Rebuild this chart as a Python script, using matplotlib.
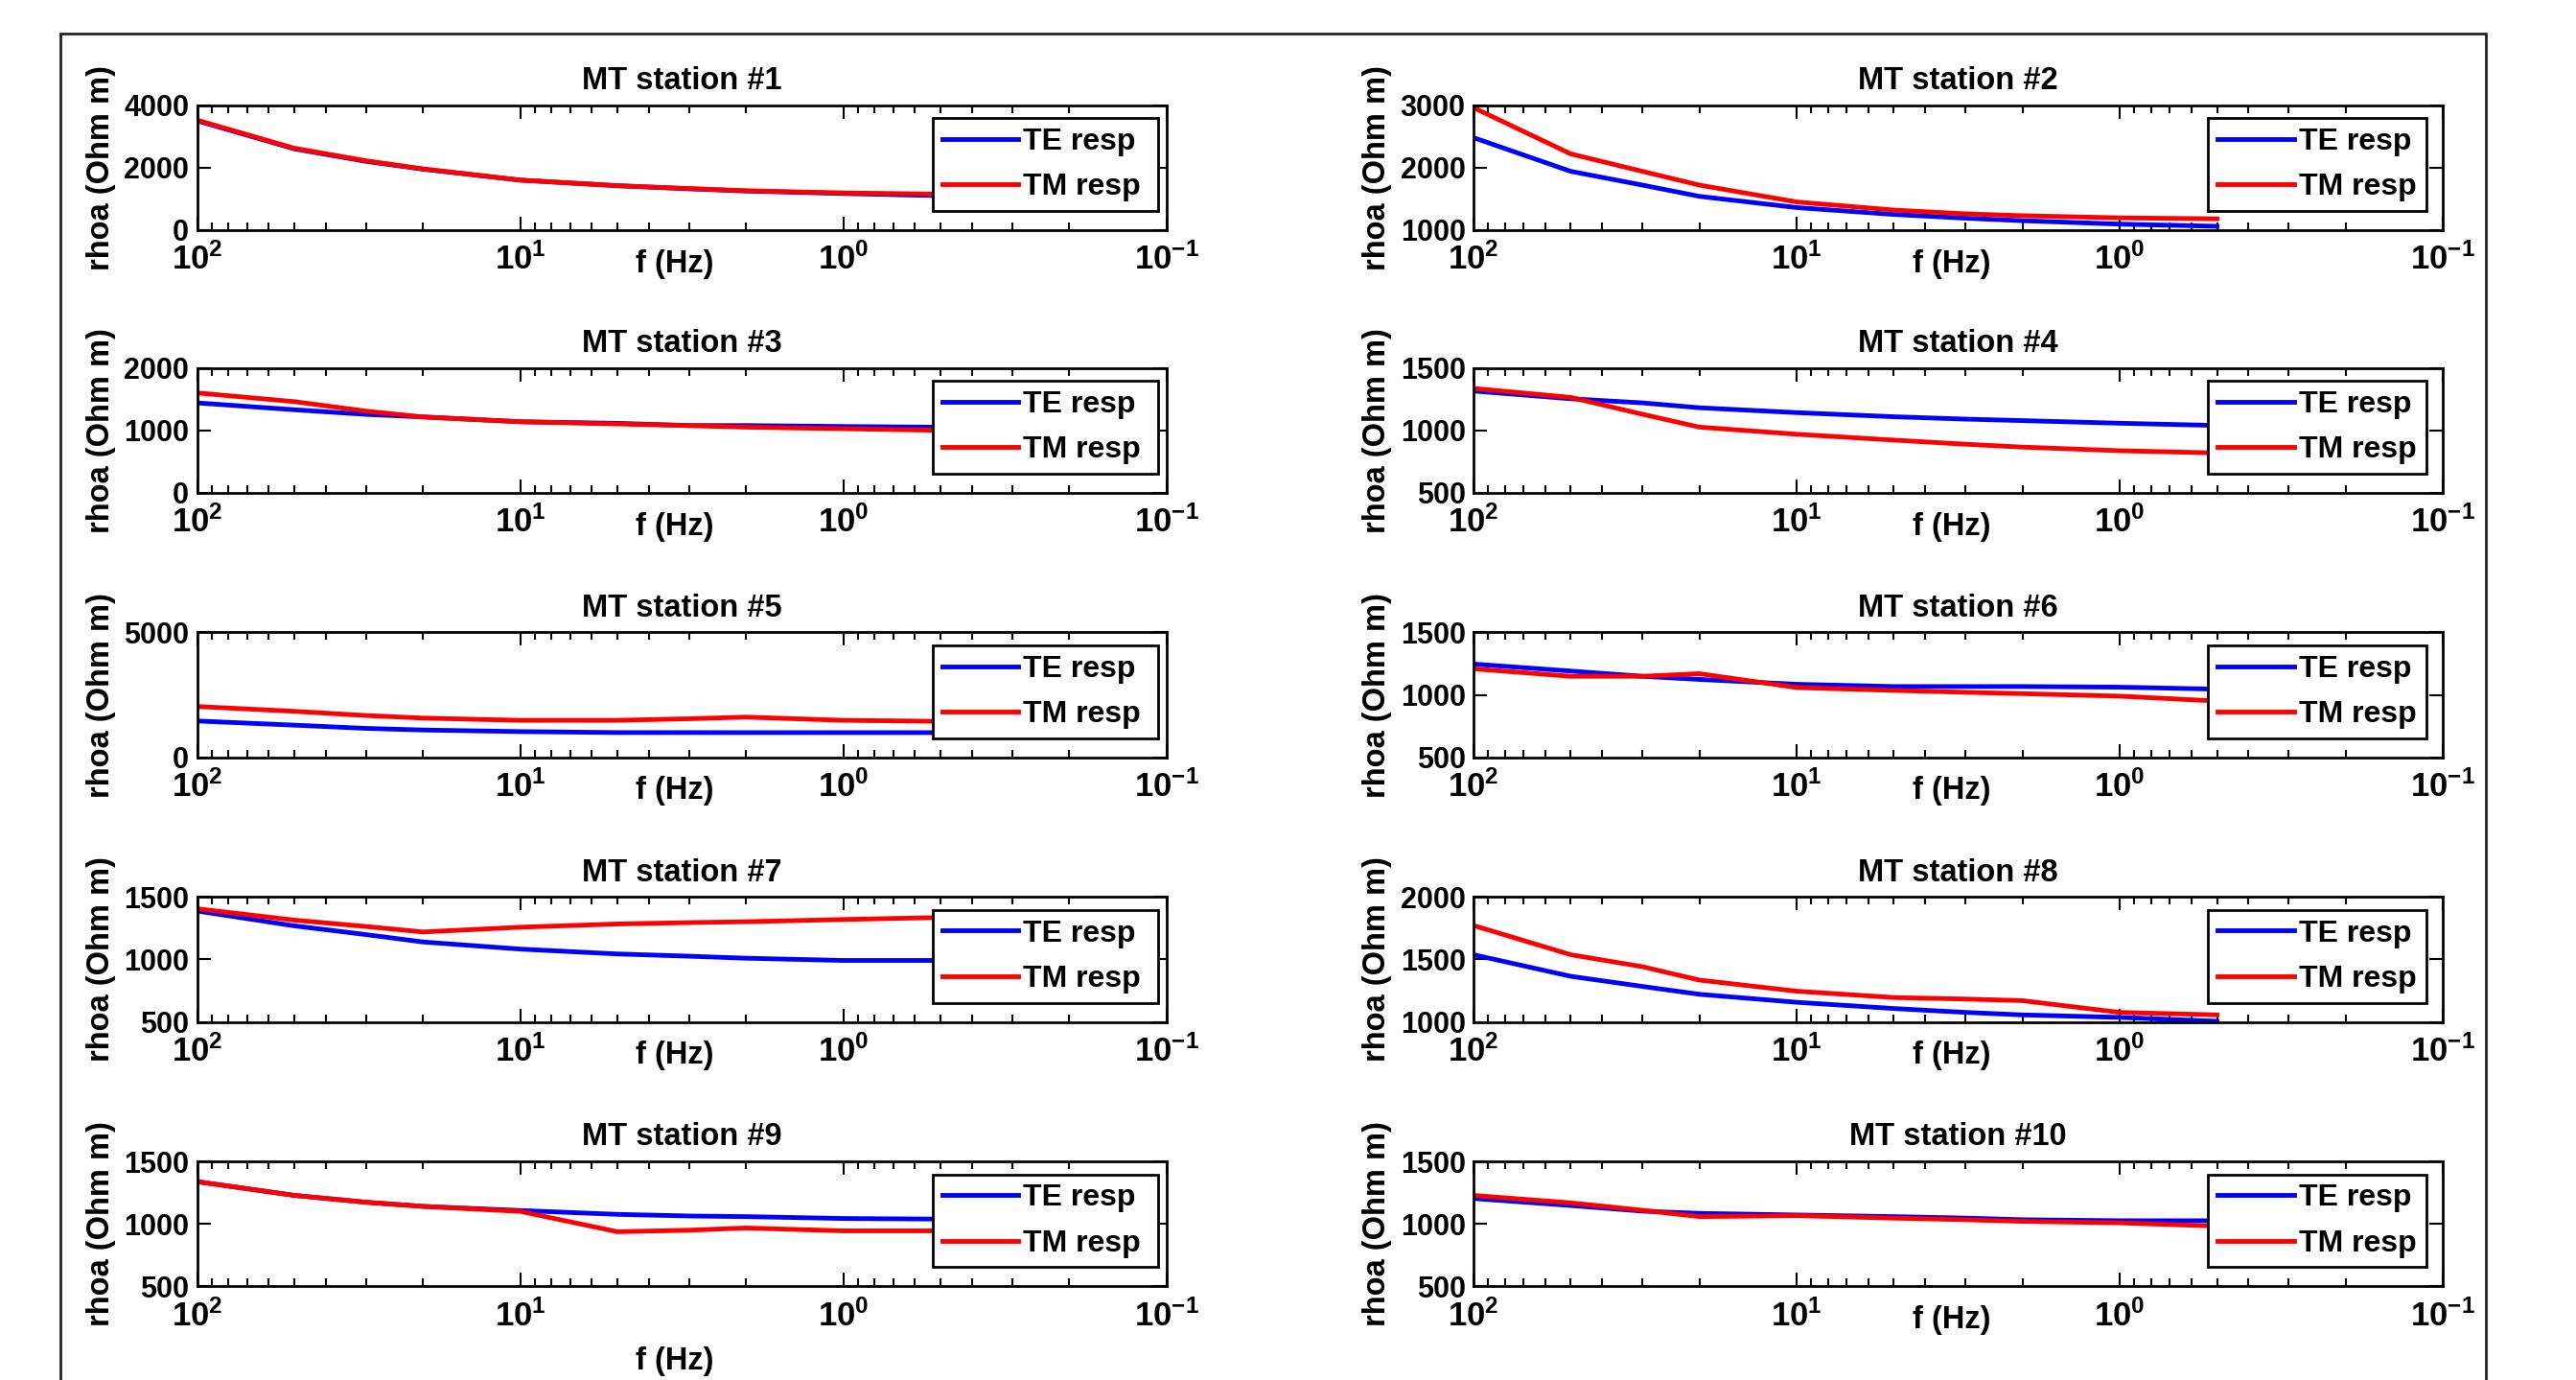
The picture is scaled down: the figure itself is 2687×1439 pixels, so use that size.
import matplotlib
matplotlib.use('Agg')
import matplotlib.pyplot as plt
from matplotlib.patches import Rectangle
from matplotlib.ticker import LogLocator, NullFormatter, FixedLocator

plt.rcParams['font.family'] = ['Liberation Sans', 'DejaVu Sans']
plt.rcParams['font.weight'] = 'bold'
plt.rcParams['mathtext.fontset'] = 'custom'
plt.rcParams['mathtext.rm'] = 'Liberation Sans:bold'
plt.rcParams['mathtext.it'] = 'Liberation Sans:bold'
plt.rcParams['mathtext.bf'] = 'Liberation Sans:bold'

# frequencies (Hz)
freq = [100, 50, 30, 20, 10, 5, 3, 2, 1, 0.5]

# apparent resistivity (Ohm m), TE and TM responses per station
st1_te = [3500, 2600, 2200, 1950, 1600, 1420, 1320, 1250, 1170, 1100]
st1_tm = [3520, 2620, 2220, 1960, 1600, 1420, 1330, 1260, 1190, 1150]
st2_te = [2480, 1940, 1720, 1540, 1360, 1250, 1190, 1150, 1095, 1060]
st2_tm = [2960, 2220, 1940, 1720, 1450, 1320, 1260, 1230, 1195, 1180]
st3_te = [1440, 1330, 1256, 1215, 1138, 1113, 1077, 1077, 1062, 1050]
st3_tm = [1600, 1460, 1308, 1215, 1138, 1103, 1077, 1051, 1026, 1000]
st4_te = [1315, 1253, 1220, 1181, 1142, 1109, 1090, 1078, 1057, 1039]
st4_tm = [1336, 1264, 1129, 1026, 969, 922, 889, 866, 837, 819]
st5_te = [1456, 1289, 1160, 1095, 1031, 992, 992, 990, 990, 990]
st5_tm = [2036, 1843, 1675, 1572, 1482, 1482, 1546, 1611, 1482, 1443]
st6_te = [1247, 1191, 1149, 1124, 1085, 1067, 1067, 1067, 1062, 1046]
st6_tm = [1209, 1149, 1149, 1170, 1059, 1036, 1021, 1010, 990, 951]
st7_te = [1388, 1269, 1199, 1140, 1083, 1044, 1026, 1010, 992, 992]
st7_tm = [1406, 1315, 1264, 1220, 1258, 1284, 1295, 1302, 1320, 1336]
st8_te = [1538, 1365, 1284, 1221, 1157, 1107, 1076, 1056, 1036, 1005]
st8_tm = [1772, 1538, 1442, 1335, 1246, 1195, 1183, 1170, 1076, 1056]
st9_te = [1338, 1228, 1173, 1140, 1107, 1076, 1063, 1058, 1043, 1038]
st9_tm = [1338, 1228, 1173, 1140, 1100, 937, 949, 967, 944, 944]
st10_te = [1203, 1147, 1102, 1084, 1071, 1058, 1046, 1033, 1025, 1025]
st10_tm = [1228, 1168, 1109, 1058, 1066, 1046, 1033, 1020, 1008, 982]

te_list = [st1_te, st2_te, st3_te, st4_te, st5_te, st6_te, st7_te, st8_te, st9_te, st10_te]
tm_list = [st1_tm, st2_tm, st3_tm, st4_tm, st5_tm, st6_tm, st7_tm, st8_tm, st9_tm, st10_tm]

y_limits = [(0, 4000), (1000, 3000), (0, 2000), (500, 1500), (0, 5000),
            (500, 1500), (500, 1500), (1000, 2000), (500, 1500), (500, 1500)]
y_ticks = [[0, 2000, 4000], [1000, 2000, 3000], [0, 1000, 2000], [500, 1000, 1500], [0, 5000],
           [500, 1000, 1500], [500, 1000, 1500], [1000, 1500, 2000], [500, 1000, 1500], [500, 1000, 1500]]

fig = plt.figure(figsize=(26.87, 14.39), dpi=100)

# outer frame around the figure
fig.patches.append(Rectangle((0.0236, -0.01), 0.9413, 0.986, transform=fig.transFigure,
                             fill=False, edgecolor='#222222', linewidth=2))

col_x = [0.0765, 0.572]
row_y = [0.8333, 0.6429, 0.4512, 0.2595, 0.0679]
w, h = 0.3763, 0.0905
leg_x = [0.759, 0.758]
leg_w = [0.2325, 0.225]

for i in range(10):
    r, c = i // 2, i % 2
    ax = fig.add_axes([col_x[c], row_y[r], w, h])
    ax.plot(freq, te_list[i], color='#0000ff', linewidth=3.5, label='TE resp')
    ax.plot(freq, tm_list[i], color='#ff0000', linewidth=3.5, label='TM resp')
    ax.set_xscale('log')
    ax.set_xlim(100, 0.1)
    ax.set_ylim(*y_limits[i])
    ax.set_yticks(y_ticks[i])
    ax.set_yticklabels([str(v) for v in y_ticks[i]])
    ax.xaxis.set_major_locator(FixedLocator([100, 10, 1, 0.1]))
    ax.set_xticklabels(['$10^{2}$', '$10^{1}$', '$10^{0}$', '$10^{-1}$'])
    ax.xaxis.set_minor_locator(LogLocator(base=10, subs=range(2, 10)))
    ax.xaxis.set_minor_formatter(NullFormatter())
    ax.tick_params(which='both', direction='in', top=True, right=True, width=1.5)
    ax.tick_params(which='major', length=10)
    ax.tick_params(which='minor', length=6)
    ax.tick_params(axis='x', labelsize=25, pad=10)
    ax.tick_params(axis='y', labelsize=22, pad=6)
    for s in ax.spines.values():
        s.set_linewidth(2)
    ax.set_title('MT station #%d' % (i + 1), fontsize=23.5, fontweight='bold', pad=12)
    ax.set_ylabel('rhoa (Ohm m)', fontsize=23.5, fontweight='bold', labelpad=6)
    xl_y = -0.6 if i == 8 else -0.27
    ax.text(0.493, xl_y, 'f (Hz)', transform=ax.transAxes, ha='center', va='center',
            fontsize=23.5, fontweight='bold')
    leg = ax.legend(loc='upper left', bbox_to_anchor=(leg_x[c], 0.0, leg_w[c], 0.895),
                    mode='expand', fontsize=23,
                    frameon=True, fancybox=False, framealpha=1, edgecolor='black',
                    borderaxespad=0, handlelength=2.5, handletextpad=0.15,
                    labelspacing=0.55, borderpad=0.3)
    leg.get_frame().set_linewidth(2)
    leg.set_zorder(5)

fig.savefig('out.png', dpi=100, facecolor='white')
